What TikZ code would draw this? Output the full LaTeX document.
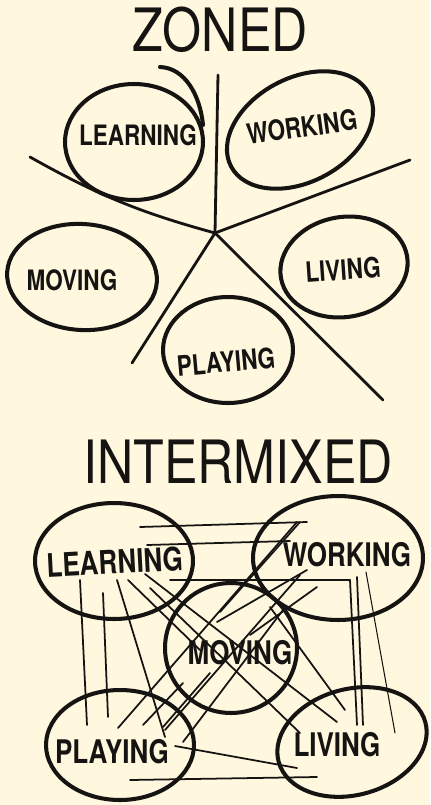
\documentclass[tikz,border=0pt]{standalone}
\usepackage{fontspec}
\usetikzlibrary{shapes.geometric,calc}
\newfontfamily\handfont[FakeStretch=0.8]{TeX Gyre Heros}
\newfontfamily\titlefont[FakeStretch=0.84]{TeX Gyre Heros}
\definecolor{paperCream}{RGB}{255,248,222}
\definecolor{inkBlack}{RGB}{22,20,18}

\begin{document}
\begin{tikzpicture}[x=0.02cm,y=-0.02cm,
  blob/.style={draw=inkBlack,ellipse,line width=2.3pt,inner sep=0pt},
  tag/.style={text=inkBlack,inner sep=0pt,font={\handfont\bfseries\fontsize{#1}{#1}\selectfont}},
  tag/.default=16,
  heading/.style={text=inkBlack,inner sep=0pt,font={\titlefont\fontsize{34}{34}\selectfont}},
  divide/.style={draw=inkBlack,line width=1.6pt,line cap=round},
  link/.style={draw=inkBlack,line width=1pt,line cap=round}]
\fill[paperCream] (0,0) rectangle (430,805);
\useasboundingbox (0,0) rectangle (430,805);

% zoned
\node[heading] (zTitle) at (220,30) {ZONED};
\coordinate (hub) at (215,233);
\coordinate (zTop) at (218,75);
\coordinate (zLeft) at (30,157);
\coordinate (zRight) at (410,160);
\coordinate (zLowL) at (132,363);
\coordinate (zLowR) at (383,400);
\node[blob,minimum width=2.76cm,minimum height=2.32cm] (zLearn) at (134,142) {};
\node[blob,minimum width=3.12cm,minimum height=2.08cm,rotate=28] (zWork) at (300,130) {};
\node[blob,minimum width=3cm,minimum height=2.12cm,rotate=-4] (zMove) at (82,277) {};
\node[blob,minimum width=2.56cm,minimum height=2cm,rotate=10] (zLive) at (344,267) {};
\node[blob,minimum width=2.6cm,minimum height=2.12cm] (zPlay) at (228,350) {};
\node[tag] (zLearnTag) at (138,135) {LEARNING};
\node[tag,rotate=8] (zWorkTag) at (302,127) {WORKING};
\node[tag] (zMoveTag) at (72,280) {MOVING};
\node[tag,rotate=4] (zLiveTag) at (343,270) {LIVING};
\node[tag,rotate=5] (zPlayTag) at (226,362) {PLAYING};
\draw[line width=2.3pt,line cap=round,inkBlack] (160,67) .. controls (185,68) and (200,95) .. (203,125);
\draw[divide] (zTop) -- (hub);
\draw[divide] (zLeft) to[bend right=7] (hub);
\draw[divide] (hub) -- (zRight);
\draw[divide] (hub) -- (zLowL);
\draw[divide] (hub) -- (zLowR);

% intermixed
\node[heading] (iTitle) at (238,462) {INTERMIXED};
\node[blob,minimum width=3.16cm,minimum height=2.32cm] (iLearn) at (114,561) {};
\node[blob,minimum width=3.4cm,minimum height=2.48cm] (iWork) at (338,558) {};
\node[blob,minimum width=2.64cm,minimum height=2.6cm] (iMove) at (231,648) {};
\node[blob,minimum width=2.96cm,minimum height=2.2cm] (iPlay) at (120,745) {};
\node[blob,minimum width=3.04cm,minimum height=2.12cm,rotate=15] (iLive) at (352,742) {};
\node[tag=18.5,rotate=3] (iLearnTag) at (115,562) {LEARNING};
\node[tag=18.5] (iWorkTag) at (347,555) {WORKING};
\node[tag=18.5] (iMoveTag) at (240,653) {MOVING};
\node[tag=18.5] (iPlayTag) at (112,752) {PLAYING};
\node[tag=18.5] (iLiveTag) at (337,745) {LIVING};
\foreach \a/\ax/\ay/\b/\bx/\by in {
  iLearn/26/-34/iWork/-31/-36, iLearn/33/-16/iWork/-48/-17, iLearn/56/19/iWork/12/22,
  iWork/12/22/iLive/5/-17, iWork/19/19/iLive/11/-17,
  iLearn/-34/19/iPlay/-33/-20, iLearn/-11/32/iPlay/-12/-28, iLearn/3/19/iPlay/45/-8,
  iLearn/31/13/iLive/-15/-20, iLearn/36/27/iLive/-52/-9, iLearn/14/19/iMove/-31/2,
  iMove/39/-41/iLive/-7/-32, iMove/-11/-36/iWork/-38/-36, iMove/-14/-26/iWork/-31/12,
  iMove/19/-13/iWork/-21/29, iPlay/-2/-17/iWork/-41/-36, iPlay/23/-20/iMove/-48/35,
  iPlay/45/-15/iWork/-38/17, iPlay/63/-3/iMove/52/-38, iPlay/55/1/iLive/-55/26,
  iPlay/10/35/iLive/-35/35, iMove/-21/25/iPlay/43/-18}
  \draw[link] ([shift={(\ax,\ay)}]\a.center) -- ([shift={(\bx,\by)}]\b.center);
\draw[link,line width=0.6pt] ([shift={(28,14)}]iWork.center) -- ([shift={(43,-9)}]iLive.center);
\end{tikzpicture}
\end{document}
